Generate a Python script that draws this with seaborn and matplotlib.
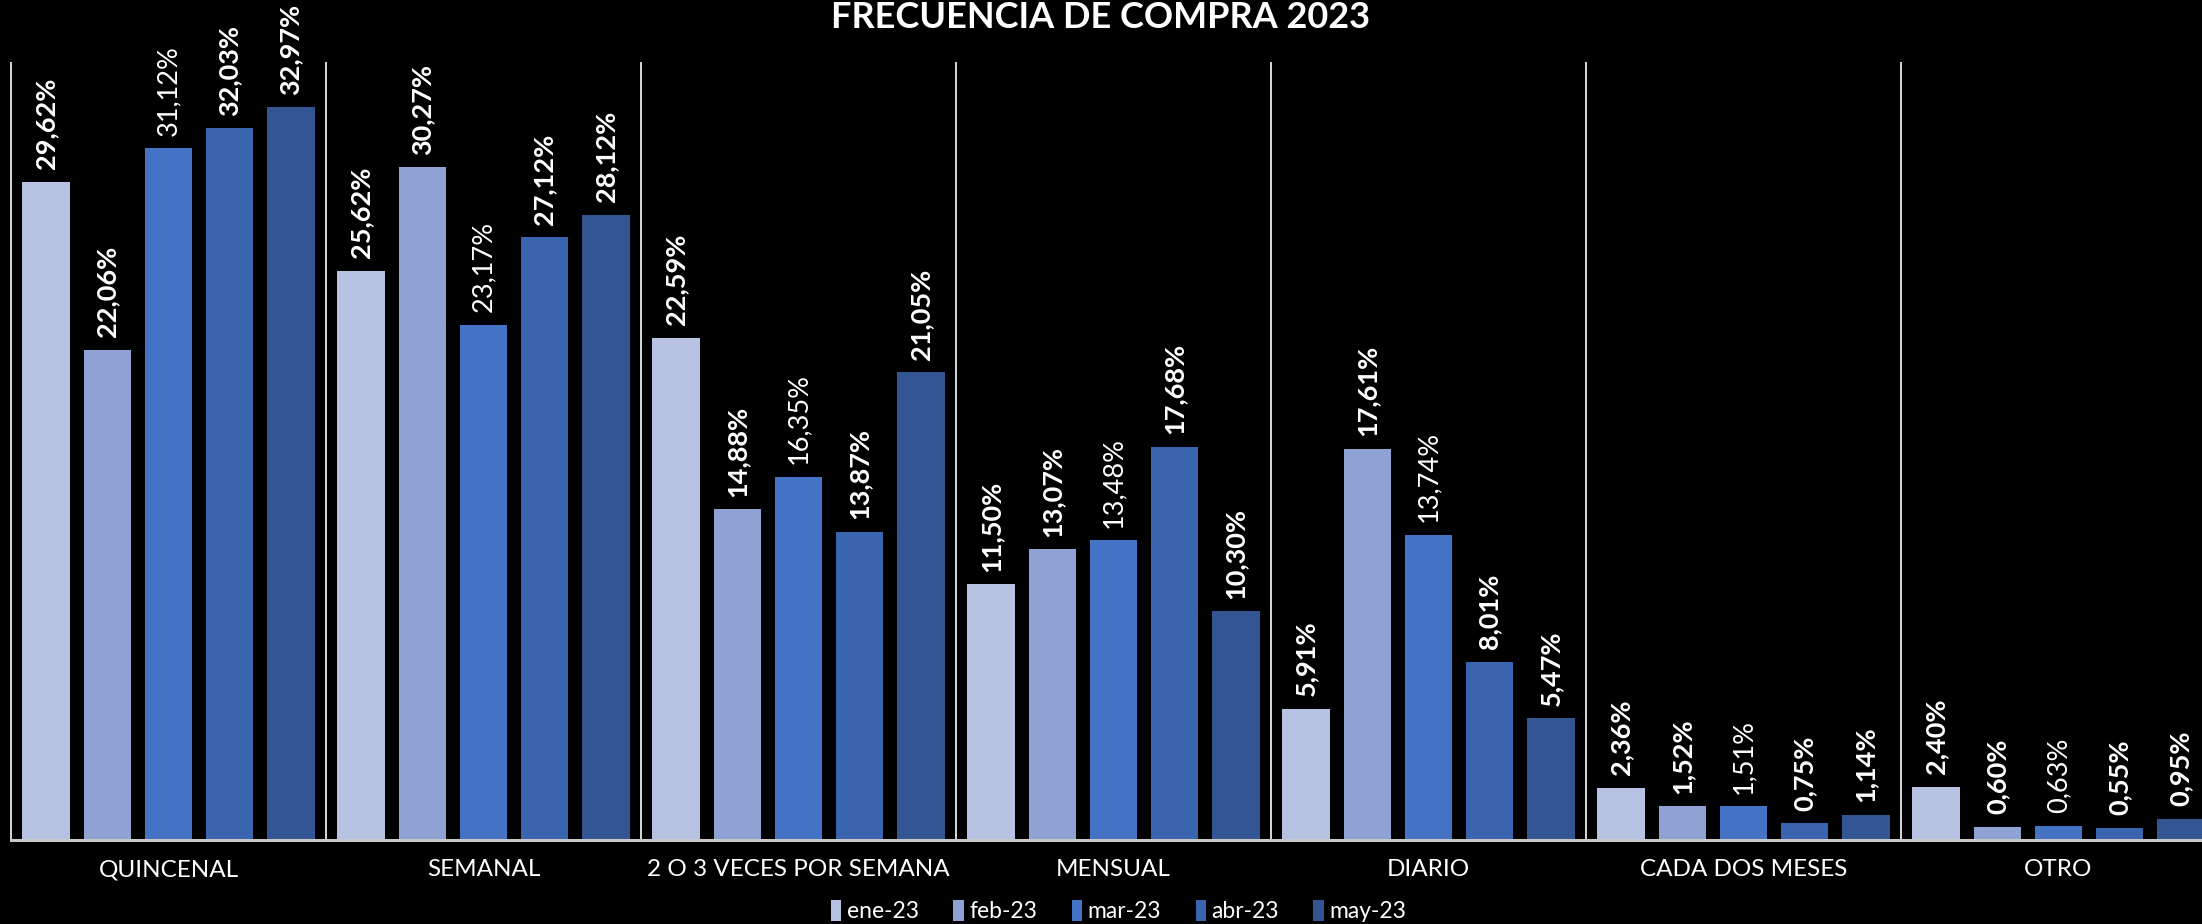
"""Frecuencia de compra 2023: grouped bars by month, black background."""

import matplotlib
matplotlib.use("Agg")
import matplotlib.pyplot as plt
import numpy as np
import pandas as pd
import seaborn as sns

# --- data -------------------------------------------------------------
CATEGORIES = ["QUINCENAL", "SEMANAL", "2 O 3 VECES POR SEMANA", "MENSUAL",
              "DIARIO", "CADA DOS MESES", "OTRO"]
MONTHS = ["ene-23", "feb-23", "mar-23", "abr-23", "may-23"]
ENE = [29.62, 25.62, 22.59, 11.50, 5.91, 2.36, 2.40]
FEB = [22.06, 30.27, 14.88, 13.07, 17.61, 1.52, 0.60]
MAR = [31.12, 23.17, 16.35, 13.48, 13.74, 1.51, 0.63]
ABR = [32.03, 27.12, 13.87, 17.68, 8.01, 0.75, 0.55]
MAY = [32.97, 28.12, 21.05, 10.30, 5.47, 1.14, 0.95]

COLORS = ["#B7C1E2", "#8FA2D4", "#4472C4", "#3A64AE", "#335593"]
LABEL_WEIGHT = ["bold", "bold", "normal", "bold", "bold"]

# --- look -------------------------------------------------------------
sns.set_theme(style="white", rc={
    "figure.facecolor": "black",
    "axes.facecolor": "black",
    "savefig.facecolor": "black",
    "text.color": "white",
    "axes.labelcolor": "white",
    "xtick.color": "white",
    "ytick.color": "white",
})
plt.rcParams["font.family"] = ["Lato", "DejaVu Sans"]

series = [ENE, FEB, MAR, ABR, MAY]
df = pd.DataFrame({
    "categoria": np.tile(CATEGORIES, len(MONTHS)),
    "mes": np.repeat(MONTHS, len(CATEGORIES)),
    "valor": np.concatenate(series),
})

fig = plt.figure(figsize=(22.02, 9.24), dpi=100)
# axes run a bit past the right edge, as in the original export
ax = fig.add_axes([11 / 2202, 84 / 924, 2205 / 2202, 778 / 924])

sns.barplot(data=df, x="categoria", y="valor", hue="mes", order=CATEGORIES,
            hue_order=MONTHS, palette=COLORS, width=0.97, gap=0.22,
            saturation=1, linewidth=0, edgecolor="none", ax=ax)

handles, labels = ax.get_legend_handles_labels()
ax.get_legend().remove()

for cont, vals, weight in zip(ax.containers, series, LABEL_WEIGHT):
    txt = [f"{v:.2f}%".replace(".", ",") for v in vals]
    ax.bar_label(cont, labels=txt, rotation=90, padding=9, fontsize=19.5,
                 fontweight=weight, color="white")

ax.set_xlim(-0.5, len(CATEGORIES) - 0.5)
ax.set_ylim(0, 35)
ax.set_xlabel("")
ax.set_ylabel("")
ax.set_yticks([])
ax.tick_params(axis="x", length=0, pad=14, labelsize=17.5, colors="white")

for side in ["left", "right", "top"]:
    ax.spines[side].set_visible(False)
ax.spines["bottom"].set_color("#C8C8C8")
ax.spines["bottom"].set_linewidth(2.2)

# separators between categories
bounds = np.arange(len(CATEGORIES) + 1) - 0.5
ax.vlines(bounds, 0, 35, colors="#D8D8D8", linewidth=1.4, clip_on=False)

fig.suptitle("FRECUENCIA DE COMPRA 2023", y=0.981, va="center",
             fontsize=26, fontweight="bold", color="white")

fig.legend(handles, labels, loc="center", bbox_to_anchor=(0.508, 0.014),
           ncol=5, frameon=False, fontsize=16.5, handlelength=0.45,
           handleheight=1.0, handletextpad=0.25, columnspacing=1.5,
           labelcolor="white")

fig.savefig("out.png", dpi=100, facecolor="black")
